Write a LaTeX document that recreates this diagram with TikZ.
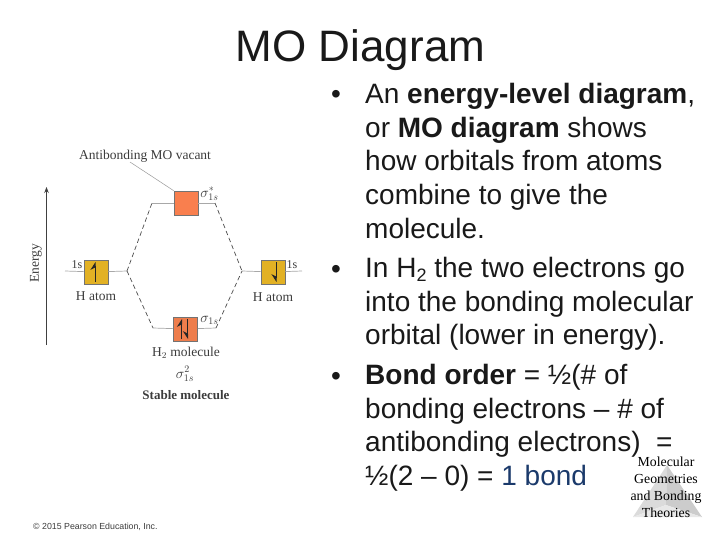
\documentclass[tikz,border=0pt]{standalone}
\usepackage[no-math]{fontspec}
\setmainfont{Liberation Sans}
\newfontfamily\figfont{Liberation Serif}
\usetikzlibrary{arrows.meta,positioning}
\definecolor{atomfill}{HTML}{E2B124}
\definecolor{antifill}{HTML}{F97F4E}
\definecolor{bondfill}{HTML}{EE7D4C}
\definecolor{levelgray}{HTML}{A8A8A8}
\definecolor{figtext}{HTML}{3C3C3C}
\definecolor{bondblue}{HTML}{1B3A6B}
\newcommand{\subtwo}{\raisebox{-4.5pt}{\fontsize{18}{18}\selectfont 2}}

\begin{document}
\begin{tikzpicture}[
  x=1pt, y=-1pt,
  orbital/.style={rectangle, draw=black!55, line width=0.7pt,
                  minimum width=24pt, minimum height=24pt, inner sep=0pt},
  level/.style={line width=0.7pt, levelgray},
  dashline/.style={line width=0.7pt, black!70, dash pattern=on 4.5pt off 3pt},
  spinup/.style={line width=1pt, black!85, -{Stealth[harpoon,length=7pt,width=9pt]}},
  spindown/.style={line width=1pt, black!85, -{Stealth[harpoon,swap,length=7pt,width=9pt]}},
  figlabel/.style={font=\figfont\fontsize{13.5}{15}\selectfont, text=figtext, inner sep=0pt},
  smalllabel/.style={font=\figfont\fontsize{12}{14}\selectfont, text=figtext, inner sep=0pt},
  mathlabel/.style={font=\figfont\fontsize{14.5}{16}\selectfont, text=figtext, inner sep=0pt},
  bodytext/.style={anchor=north west, inner sep=0pt, align=left,
                   font=\fontsize{28}{33.7}\selectfont, text=black!90},
  bulletmark/.style={anchor=base west, inner sep=0pt,
                     font=\fontsize{28}{33.7}\selectfont, text=black!90},
  cornertext/.style={font=\figfont\fontsize{13.8}{17}\selectfont, align=center, inner sep=0pt}
]
\useasboundingbox (0,0) rectangle (720,540);
\fill[white] (0,0) rectangle (720,540);

% title
\node[inner sep=0pt, font=\fontsize{44}{44}\selectfont, text=black!90] (title) at (360.5,50) {MO Diagram};

% level ends
\coordinate (la) at (65,271);
\coordinate (lb) at (127,271);
\coordinate (ra) at (242,271);
\coordinate (rb) at (302,271);
\coordinate (ta) at (152,203);
\coordinate (tb) at (215,203);
\coordinate (ba) at (153,328);
\coordinate (bb) at (216,328);

% orbitals
\node[orbital, fill=atomfill] (hleft) at (96,272) {};
\node[orbital, fill=atomfill] (hright) at (273,272) {};
\node[orbital, fill=antifill] (sigstar) at (186,203) {};
\node[orbital, fill=bondfill] (sigbond) at (185.5,329) {};

\draw[level] (la) -- (hleft);
\draw[level] (hleft) -- (lb);
\draw[level] (ra) -- (hright);
\draw[level] (hright) -- (rb);
\draw[level] (ta) -- (sigstar);
\draw[level] (sigstar) -- (tb);
\draw[level] (ba) -- (sigbond);
\draw[level] (sigbond) -- (bb);

\draw[dashline] (lb) -- (ta);
\draw[dashline] (lb) -- (ba);
\draw[dashline] (tb) -- (ra);
\draw[dashline] (bb) -- (ra);

% electrons
\draw[spinup] ([xshift=-1pt,yshift=-10pt]hleft.center) -- ([xshift=-1pt,yshift=10pt]hleft.center);
\draw[spindown] ([xshift=3pt,yshift=10pt]hright.center) -- ([xshift=3pt,yshift=-10pt]hright.center);
\draw[spinup] ([xshift=-4pt,yshift=-10pt]sigbond.center) -- ([xshift=-4pt,yshift=10pt]sigbond.center);
\draw[spindown] ([xshift=2pt,yshift=10pt]sigbond.center) -- ([xshift=2pt,yshift=-10pt]sigbond.center);

% energy axis
\coordinate (ebase) at (46.5,345);
\coordinate (etip) at (46.5,187);
\draw[line width=0.7pt, black!75, -{Stealth[length=6pt,width=4.5pt]}] (ebase) -- (etip);
\node[figlabel, rotate=90] (energy) at (36,263) {Energy};

% labels
\node[figlabel] (vacant) at (145,156) {Antibonding MO vacant};
\draw[line width=0.5pt, black!40] (130,162) -- (sigstar.north west);
\node[smalllabel] (ls) at (77,265) {1s};
\node[smalllabel] (rs) at (292,265) {1s};
\node[figlabel] (hl) at (96,296) {H atom};
\node[figlabel] (hr) at (273,297) {H atom};
\node[mathlabel] (starlab) at (209.5,194) {$\sigma^{*}_{1s}$};
\node[mathlabel] (bondlab) at (209.5,320) {$\sigma_{1s}$};
\node[figlabel] (mol) at (186,353) {H$_2$ molecule};
\node[mathlabel] (config) at (185,374) {$\sigma^{2}_{1s}$};
\node[figlabel, font=\figfont\bfseries\fontsize{13}{15}\selectfont] (stable) at (186,395) {Stable molecule};
\node[anchor=west, inner sep=0pt, font=\fontsize{8.8}{10}\selectfont, text=figtext] (copy) at (33,527) {© 2015 Pearson Education, Inc.};

% bullets
\node[bodytext] (t1) at (365,83) {An \textbf{energy-level diagram},\\or \textbf{MO diagram} shows\\how orbitals from atoms\\combine to give the\\molecule.};
\node[bodytext] (t2) at (365,257) {In H\subtwo{} the two electrons go\\into the bonding molecular\\orbital (lower in energy).};
\node[bodytext] (t3) at (365,364) {\textbf{Bond order} = ½(\# of\\bonding electrons – \# of\\antibonding electrons)~ =\\½(2 – 0) = \textcolor{bondblue}{1 bond}};
\node[bulletmark] (b1) at (331,104) {•};
\node[bulletmark] (b2) at (331,278) {•};
\node[bulletmark] (b3) at (331,385) {•};

% corner pyramid
\fill[black!14] (667,465) -- (633,517) -- (666,505) -- cycle;
\fill[black!20] (667,465) -- (702,517) -- (666,505) -- cycle;
\fill[black!9] (633,517) -- (702,517) -- (666,505) -- cycle;
\node[cornertext] (corner) at (666,487.5) {Molecular\\Geometries\\and Bonding\\Theories};
\end{tikzpicture}
\end{document}
